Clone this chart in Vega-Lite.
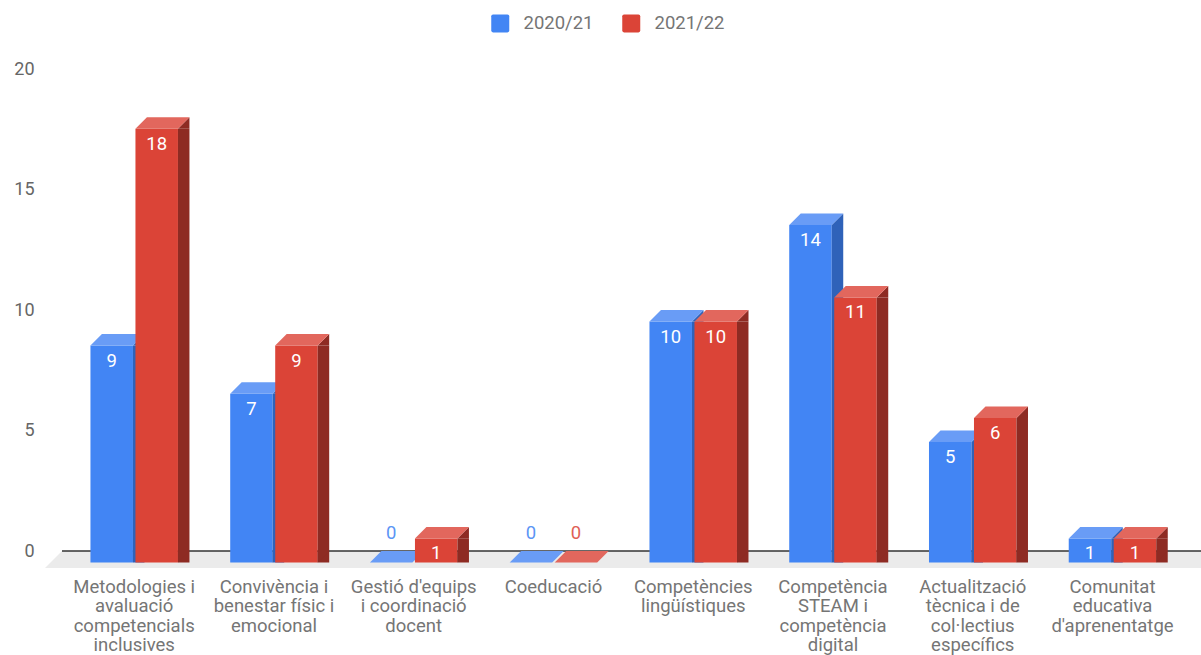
{
  "$schema": "https://vega.github.io/schema/vega-lite/v6.json",
  "width": 1139,
  "height": 482,
  "autosize": {"type": "none"},
  "padding": {"left": 62, "top": 69, "right": 0, "bottom": 104},
  "background": "white",
  "config": {"view": {"stroke": null}, "font": "Roboto"},
  "data": {
    "values": [
      {"category": "Metodologies i avaluació competencials inclusives", "series": "2020/21", "value": 9},
      {"category": "Metodologies i avaluació competencials inclusives", "series": "2021/22", "value": 18},
      {"category": "Convivència i benestar físic i emocional", "series": "2020/21", "value": 7},
      {"category": "Convivència i benestar físic i emocional", "series": "2021/22", "value": 9},
      {"category": "Gestió d'equips i coordinació docent", "series": "2020/21", "value": 0},
      {"category": "Gestió d'equips i coordinació docent", "series": "2021/22", "value": 1},
      {"category": "Coeducació", "series": "2020/21", "value": 0},
      {"category": "Coeducació", "series": "2021/22", "value": 0},
      {"category": "Competències lingüístiques", "series": "2020/21", "value": 10},
      {"category": "Competències lingüístiques", "series": "2021/22", "value": 10},
      {"category": "Competència STEAM i competència digital", "series": "2020/21", "value": 14},
      {"category": "Competència STEAM i competència digital", "series": "2021/22", "value": 11},
      {"category": "Actualització tècnica i de col·lectius específics", "series": "2020/21", "value": 5},
      {"category": "Actualització tècnica i de col·lectius específics", "series": "2021/22", "value": 6},
      {"category": "Comunitat educativa d'aprenentatge", "series": "2020/21", "value": 1},
      {"category": "Comunitat educativa d'aprenentatge", "series": "2021/22", "value": 1}
    ]
  },
  "encoding": {
    "x": {
      "field": "category",
      "type": "nominal",
      "sort": null,
      "scale": {"paddingInner": 0, "paddingOuter": 0.075, "align": 0.111},
      "axis": {
        "title": null,
        "domain": false,
        "ticks": false,
        "grid": false,
        "labelAngle": 0,
        "labelPadding": 26,
        "labelFont": "Roboto",
        "labelFontSize": 18.5,
        "labelColor": "#757575",
        "labelLineHeight": 19.5,
        "labelLimit": 0,
        "labelOverlap": false,
        "labelExpr": "{\"Metodologies i avaluació competencials inclusives\": [\"Metodologies i\", \"avaluació\", \"competencials\", \"inclusives\"], \"Convivència i benestar físic i emocional\": [\"Convivència i\", \"benestar físic i\", \"emocional\"], \"Gestió d'equips i coordinació docent\": [\"Gestió d'equips\", \"i coordinació\", \"docent\"], \"Coeducació\": [\"Coeducació\"], \"Competències lingüístiques\": [\"Competències\", \"lingüístiques\"], \"Competència STEAM i competència digital\": [\"Competència\", \"STEAM i\", \"competència\", \"digital\"], \"Actualització tècnica i de col·lectius específics\": [\"Actualització\", \"tècnica i de\", \"col·lectius\", \"específics\"], \"Comunitat educativa d'aprenentatge\": [\"Comunitat\", \"educativa\", \"d'aprenentatge\"]}[datum.label]"
      }
    }
  },
  "layer": [
    {
      "data": {"values": [{"floor": 1}]},
      "mark": {"type": "point", "shape": "M 0 0 L 1160 0 L 1143 17 L -17 17 Z", "size": 4, "filled": true, "opacity": 1, "strokeWidth": 0, "color": "#ebebeb"},
      "encoding": {
        "x": {"value": 0},
        "y": {
          "datum": 0,
          "type": "quantitative",
          "scale": {"domain": [0, 20]},
          "axis": {
            "title": null,
            "values": [0, 5, 10, 15, 20],
            "domain": false,
            "ticks": false,
            "labelPadding": 28,
            "labelFont": "Roboto",
            "labelFontSize": 18,
            "labelColor": "#666666",
            "gridColor": "#cccccc",
            "gridWidth": 1.3
          }
        }
      }
    },
    {
      "data": {"values": [{"baseline": 0}]},
      "mark": {"type": "rule", "color": "#333333", "strokeWidth": 1.5},
      "encoding": {"x": null, "y": {"field": "baseline", "type": "quantitative"}}
    },
    {
      "transform": [{"filter": "datum.series === '2020/21'"}],
      "mark": {"type": "bar", "width": 42.5, "xOffset": -22.5, "yOffset": 11.5, "y2Offset": 11.5},
      "encoding": {
        "y": {"field": "value", "type": "quantitative"},
        "color": {
          "field": "series",
          "type": "nominal",
          "scale": {"domain": ["2020/21", "2021/22"], "range": ["#4285f4", "#db4437"]},
          "legend": {
            "title": null,
            "orient": "none",
            "legendX": 429,
            "legendY": -55,
            "direction": "horizontal",
            "padding": 0,
            "symbolType": "M -0.8 -1 L 0.8 -1 Q 1 -1 1 -0.8 L 1 0.8 Q 1 1 0.8 1 L -0.8 1 Q -1 1 -1 0.8 L -1 -0.8 Q -1 -1 -0.8 -1 Z",
            "symbolSize": 324,
            "symbolStrokeWidth": 0,
            "symbolOpacity": 1,
            "labelFont": "Roboto",
            "labelFontSize": 18.5,
            "labelColor": "#757575",
            "labelOffset": 14,
            "columnPadding": 28
          }
        }
      }
    },
    {
      "transform": [{"filter": "datum.series === '2020/21' && datum.value > 0"}],
      "mark": {"type": "bar", "width": 11.5, "xOffset": 4.5, "yOffset": 11.5, "y2Offset": 0, "color": "#2f62b9"},
      "encoding": {"y": {"field": "value", "type": "quantitative"}}
    },
    {
      "transform": [{"filter": "datum.series === '2020/21' && datum.value > 0"}],
      "mark": {"type": "point", "shape": "M 21.25 0 L 32.75 0 L 21.25 11.5 Z", "size": 4, "filled": true, "opacity": 1, "strokeWidth": 0, "xOffset": -22.5, "color": "#2f62b9"},
      "encoding": {"y": {"datum": 0, "type": "quantitative"}}
    },
    {
      "transform": [{"filter": "datum.series === '2020/21' && datum.value > 0"}],
      "mark": {"type": "point", "shape": "M 21.25 11.5 L 32.75 0 L 32.75 11.5 Z", "size": 4, "filled": true, "opacity": 1, "strokeWidth": 0, "xOffset": -22.5, "color": "#2f62b9"},
      "encoding": {"y": {"field": "value", "type": "quantitative"}}
    },
    {
      "transform": [{"filter": "datum.series === '2020/21'"}],
      "mark": {"type": "point", "shape": "M -21.25 11.5 L 21.25 11.5 L 32.75 0 L -9.75 0 Z", "size": 4, "filled": true, "opacity": 1, "strokeWidth": 0, "xOffset": -22.5, "color": "#699cf6"},
      "encoding": {"y": {"field": "value", "type": "quantitative"}}
    },
    {
      "transform": [{"filter": "datum.series === '2021/22'"}],
      "mark": {"type": "bar", "width": 42.5, "xOffset": 22.5, "yOffset": 11.5, "y2Offset": 11.5},
      "encoding": {
        "y": {"field": "value", "type": "quantitative"},
        "color": {"field": "series", "type": "nominal"}
      }
    },
    {
      "transform": [{"filter": "datum.series === '2021/22' && datum.value > 0"}],
      "mark": {"type": "bar", "width": 11.5, "xOffset": 49.5, "yOffset": 11.5, "y2Offset": 0, "color": "#8e2b23"},
      "encoding": {"y": {"field": "value", "type": "quantitative"}}
    },
    {
      "transform": [{"filter": "datum.series === '2021/22' && datum.value > 0"}],
      "mark": {"type": "point", "shape": "M 21.25 0 L 32.75 0 L 21.25 11.5 Z", "size": 4, "filled": true, "opacity": 1, "strokeWidth": 0, "xOffset": 22.5, "color": "#8e2b23"},
      "encoding": {"y": {"datum": 0, "type": "quantitative"}}
    },
    {
      "transform": [{"filter": "datum.series === '2021/22' && datum.value > 0"}],
      "mark": {"type": "point", "shape": "M 21.25 11.5 L 32.75 0 L 32.75 11.5 Z", "size": 4, "filled": true, "opacity": 1, "strokeWidth": 0, "xOffset": 22.5, "color": "#8e2b23"},
      "encoding": {"y": {"field": "value", "type": "quantitative"}}
    },
    {
      "transform": [{"filter": "datum.series === '2021/22'"}],
      "mark": {"type": "point", "shape": "M -21.25 11.5 L 21.25 11.5 L 32.75 0 L -9.75 0 Z", "size": 4, "filled": true, "opacity": 1, "strokeWidth": 0, "xOffset": 22.5, "color": "#e2675d"},
      "encoding": {"y": {"field": "value", "type": "quantitative"}}
    },
    {
      "transform": [{"filter": "datum.series === '2020/21' && datum.value > 0"}],
      "mark": {"type": "text", "font": "Roboto", "fontSize": 18.5, "color": "white", "align": "center", "baseline": "middle", "xOffset": -22.5, "yOffset": 26.5},
      "encoding": {"y": {"field": "value", "type": "quantitative"}, "text": {"field": "value", "type": "quantitative"}}
    },
    {
      "transform": [{"filter": "datum.series === '2020/21' && datum.value === 0"}],
      "mark": {"type": "text", "font": "Roboto", "fontSize": 18.5, "color": "#5b95f5", "align": "center", "baseline": "middle", "xOffset": -22.5, "yOffset": -18},
      "encoding": {"y": {"field": "value", "type": "quantitative"}, "text": {"field": "value", "type": "quantitative"}}
    },
    {
      "transform": [{"filter": "datum.series === '2021/22' && datum.value > 0"}],
      "mark": {"type": "text", "font": "Roboto", "fontSize": 18.5, "color": "white", "align": "center", "baseline": "middle", "xOffset": 22.5, "yOffset": 26.5},
      "encoding": {"y": {"field": "value", "type": "quantitative"}, "text": {"field": "value", "type": "quantitative"}}
    },
    {
      "transform": [{"filter": "datum.series === '2021/22' && datum.value === 0"}],
      "mark": {"type": "text", "font": "Roboto", "fontSize": 18.5, "color": "#e06055", "align": "center", "baseline": "middle", "xOffset": 22.5, "yOffset": -18},
      "encoding": {"y": {"field": "value", "type": "quantitative"}, "text": {"field": "value", "type": "quantitative"}}
    }
  ]
}
